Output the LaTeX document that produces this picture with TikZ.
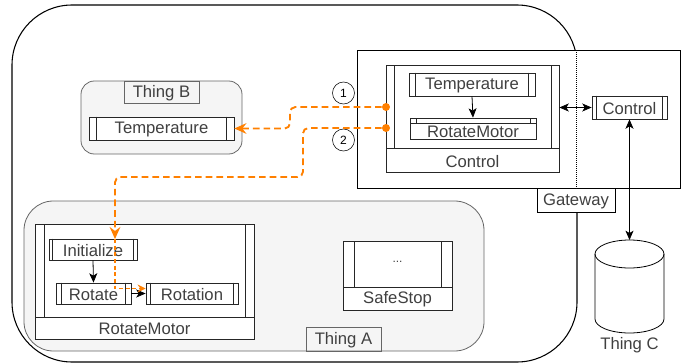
\documentclass[tikz,border=0pt]{standalone}
\usepackage{fontspec}
\setmainfont{Liberation Sans}
\usetikzlibrary{arrows.meta,fit,calc}

\definecolor{flow}{HTML}{FF8000}
\definecolor{thingfill}{HTML}{F5F5F5}
\definecolor{textgray}{HTML}{404040}

\tikzset{
  every label/.style={text=textgray, inner sep=0pt, yshift=-0.8pt},
  thing/.style={draw=black!60, fill=thingfill, line width=0.6pt},
  tag/.style={draw=black!60, inner sep=0pt},
  statebox/.style={draw=black!85, fill=white, inner sep=0pt, line width=0.6pt},
  link/.style={line width=0.6pt, -{Stealth[length=7pt,width=6pt,inset=1.8pt]}},
  twoway/.style={line width=0.6pt, {Stealth[length=7pt,width=6pt,inset=1.8pt]}-{Stealth[length=7pt,width=6pt,inset=1.8pt]}},
  flowline/.style={flow, line width=1.4pt, dash pattern=on 5pt off 3pt, rounded corners=4pt,
    -{Stealth[length=9pt,width=8pt,inset=3pt]}},
  numcircle/.style={circle, draw, minimum size=16.5pt, inner sep=0pt, font=\fontsize{9}{9}\selectfont},
  flowdot/.style={circle, fill=flow, minimum size=6pt, inner sep=0pt},
}

% double bars of a state box
\newcommand{\statebars}[2]{%
  \draw[black!85, line width=0.6pt] ([xshift=#2]#1.north west) -- ([xshift=#2]#1.south west)
    ([xshift=-#2]#1.north east) -- ([xshift=-#2]#1.south east);}

\begin{document}
\begin{tikzpicture}[x=0.75pt,y=-0.75pt, font=\fontsize{12.5}{14}\selectfont]
  \useasboundingbox (0,0) rectangle (689,364);

  % Dominio esterno
  \draw[line width=0.8pt, rounded corners=45] (12,5) rectangle (577,362);

  % Thing B
  \draw[thing, rounded corners=10] (81,81) rectangle (242,154);
  \node[tag, fit={(124,81) (199,103)}, label=center:Thing B] (tagB) {};
  \node[statebox, fit={(89,117) (234,140)}, label=center:Temperature] (tempB) {};
  \statebars{tempB}{6pt}

  % Thing A
  \draw[thing, rounded corners=22] (24,201) rectangle (484,351);
  \node[tag, fit={(306,327) (381,351)}, label=center:Thing A] (tagA) {};

  % RotateMotor
  \node[statebox, fit={(35,224) (254,339)}] (motorA) {};
  \node[statebox, fit={(35,317) (254,339)}, label=center:RotateMotor] (motorAname) {};
  \draw[black!85, line width=0.6pt] (44,224) -- (44,317) (245,224) -- (245,317);
  \node[statebox, fit={(49,239) (137,260)}, label=center:Initialize] (init) {};
  \statebars{init}{3pt}
  \node[statebox, fit={(56,283) (131,304)}, label=center:Rotate] (rotate) {};
  \statebars{rotate}{4.5pt}
  \node[statebox, fit={(146,283) (238,304)}, label=center:Rotation] (rotation) {};
  \statebars{rotation}{3.75pt}
  \draw[link] (init.south) -- (rotate.north);
  \draw[link] (rotate.east) -- (rotation.west);

  % SafeStop
  \node[statebox, fit={(343,241) (452,310)}] (safe) {};
  \node[statebox, fit={(343,287) (452,310)}, label=center:SafeStop] (safename) {};
  \draw[black!85, line width=0.6pt] (354,241) -- (354,287) (441,241) -- (441,287);
  \node[text=textgray, font=\small] (safedots) at (397.5,262) {...};

  % Gateway
  \node[draw, fill=white, inner sep=0pt, line width=0.6pt, fit={(357,50) (680,188)}] (gateway) {};
  \draw[densely dotted, line width=0.5pt] (576,50) -- (576,188);
  \node[tag, draw=black, fill=white, fit={(537,188) (615,212)}, label=center:Gateway] (gwtag) {};

  % Control nel gateway
  \node[statebox, fit={(386,65) (559,172)}] (ctl) {};
  \node[statebox, fit={(386,148) (559,172)}, label=center:Control] (ctlname) {};
  \draw[black!85, line width=0.6pt] (394,65) -- (394,148) (551,65) -- (551,148);
  \node[statebox, fit={(409,73) (535,96)}, label=center:Temperature] (tempG) {};
  \statebars{tempG}{5.25pt}
  \node[statebox, fit={(410,118) (536,139)}] (motorG) {};
  \draw[black!85, line width=0.6pt] (410,123) -- (536,123) (416,118) -- (416,123) (530,118) -- (530,123);
  \node[text=textgray, font=\tiny, inner sep=0pt] (motorGdots) at (473,119.5) {...};
  \node[text=textgray] (motorGname) at (473,132) {RotateMotor};
  \draw[link] (tempG.south) -- (motorG.north);

  % Thing C
  \node[statebox, fit={(592,96) (667,119)}, label=center:Control] (ctrlC) {};
  \statebars{ctrlC}{3.75pt}
  \draw[line width=0.6pt] (595,254) -- (595,319) arc[start angle=180, end angle=0, x radius=34.5, y radius=14] -- (664,254);
  \draw[line width=0.6pt] (629.5,254) ellipse [x radius=34.5, y radius=14];
  \coordinate (cyltop) at (629.5,240);
  \node[text=textgray] (thingC) at (629.5,345) {Thing C};
  \draw[twoway] (ctrlC.south) -- (cyltop);
  \draw[twoway] (ctrlC.west) -- (ctrlC.west -| ctl.east);

  % Flussi
  \node[numcircle] (n1) at (343.5,93) {1};
  \node[numcircle] (n2) at (343.5,140) {2};
  \node[flowdot] (dot1) at (386,107) {};
  \node[flowdot] (dot2) at (386,128) {};
  \coordinate (entry) at (115,239);
  \draw[flowline] (dot1) -- ++(-96,0) |- (tempB.east);
  \draw[flowline] (dot2) -- ++(-83,0) -- ++(0,49) -| (entry);
  \draw[flow, line width=0.8pt, dash pattern=on 3pt off 2pt, -{Stealth[length=6pt,width=6pt,inset=2pt]}]
    (entry) |- ($(rotation.west)+(0,-5)$);
\end{tikzpicture}
\end{document}
